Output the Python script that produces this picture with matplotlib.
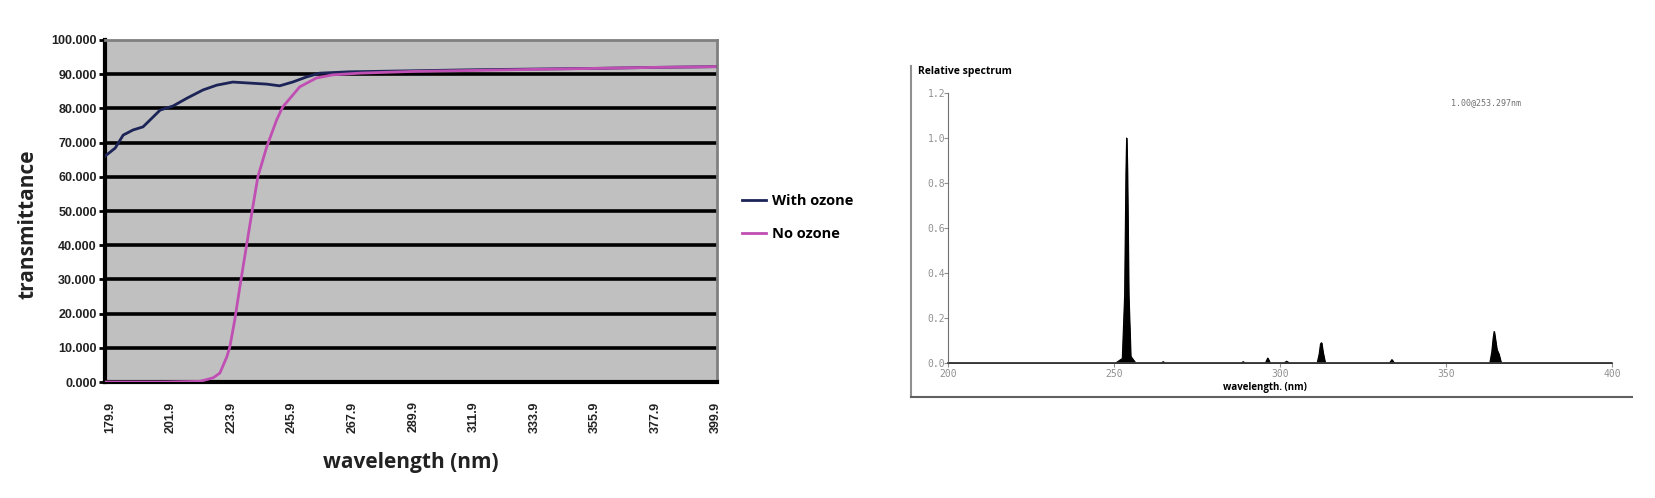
import numpy as np
import matplotlib
matplotlib.use('Agg')
import matplotlib.pyplot as plt
from matplotlib.lines import Line2D

# ---- left chart: transmittance ----
wl_ozone = [178.1, 181.7, 184.6, 188.2, 191.8, 195.1, 198.0, 202.7, 207.8, 213.6,
            218.6, 224.4, 230.6, 236.7, 241.4, 246.1, 251.2, 255.9, 266.7, 289.7,
            312.0, 333.7, 356.1, 378.2, 399.5]
tr_ozone = [66.1, 68.4, 72.2, 73.7, 74.6, 77.2, 79.5, 80.7, 83.0, 85.4,
            86.8, 87.7, 87.4, 87.1, 86.6, 87.7, 89.2, 90.3, 90.7, 91.0,
            91.3, 91.5, 91.7, 92.0, 92.2]

wl_no = [178.1, 200.0, 212.5, 217.2, 219.7, 222.2, 223.3, 225.1, 227.0, 228.8,
         231.3, 233.5, 236.7, 240.3, 242.5, 248.7, 254.8, 260.6, 270.4, 289.7,
         312.0, 333.7, 356.1, 378.2, 399.5]
tr_no = [0.0, 0.0, 0.2, 1.2, 2.6, 7.3, 10.2, 18.1, 28.0, 37.0,
         49.4, 60.0, 68.7, 76.6, 80.4, 86.3, 88.9, 89.8, 90.3, 90.8,
         91.1, 91.4, 91.7, 92.0, 92.2]

x_ticks = [179.9, 201.9, 223.9, 245.9, 267.9, 289.9, 311.9, 333.9, 355.9, 377.9, 399.9]
y_ticks = [0, 10, 20, 30, 40, 50, 60, 70, 80, 90, 100]

# ---- right chart: lamp spectrum (explicit outline points) ----
spec_wl = [200.0, 250.5, 252.5, 253.2, 253.6, 253.8, 254.0, 254.4, 255.0, 256.5,
           264.3, 264.8, 265.3, 288.4, 288.9, 289.4, 295.6, 296.3, 297.0,
           301.2, 302.0, 302.8, 311.2, 311.8, 312.2, 312.5, 312.9, 313.6,
           333.0, 333.7, 334.4, 363.2, 363.8, 364.2, 364.5, 364.9, 365.3, 365.9, 366.6, 400.0]
spec_int = [0.0, 0.0, 0.02, 0.3, 0.85, 1.0, 0.85, 0.3, 0.03, 0.0,
            0.0, 0.006, 0.0, 0.0, 0.006, 0.0, 0.0, 0.022, 0.0,
            0.0, 0.008, 0.0, 0.0, 0.04, 0.085, 0.09, 0.05, 0.0,
            0.0, 0.015, 0.0, 0.0, 0.05, 0.11, 0.14, 0.1, 0.06, 0.04, 0.0, 0.0]

W, H = 1656, 498
fig = plt.figure(figsize=(W / 100, H / 100), dpi=100)

NAVY = '#1c2457'
PINK = '#c04fb4'
TXT = '#222222'

ax = fig.add_axes([105 / W, 1 - 382 / H, (717 - 105) / W, (382 - 40) / H])
ax.set_facecolor('#c0c0c0')
ax.set_xlim(178.0, 400.2)
ax.set_ylim(0, 100)
for v in y_ticks[1:-1]:
    ax.axhline(v, color='black', lw=2.6, zorder=1)
ax.axhline(0, color='black', lw=3.5, zorder=1)
ax.plot(wl_ozone, tr_ozone, color=NAVY, lw=2, zorder=3, label='With ozone')
ax.plot(wl_no, tr_no, color=PINK, lw=2, zorder=3, label='No ozone')
ax.set_xticks(x_ticks)
ax.set_xticklabels([f'{t:.1f}' for t in x_ticks], rotation=90, fontsize=9,
                   fontweight='bold', family='Liberation Sans', color=TXT)
ax.set_yticks(y_ticks)
ax.set_yticklabels([f'{t:.3f}' for t in y_ticks], fontsize=9, fontweight='bold',
                   family='Liberation Sans', color=TXT)
ax.tick_params(axis='x', length=0, pad=14)
ax.tick_params(axis='y', length=4, width=2, pad=2)
ax.spines['left'].set_linewidth(3)
ax.spines['bottom'].set_linewidth(3)
ax.spines['top'].set_color('#808080')
ax.spines['right'].set_color('#808080')
ax.spines['top'].set_linewidth(2)
ax.spines['right'].set_linewidth(2)
ax.set_ylabel('transmittance', fontsize=15, fontweight='bold', family='Open Sans',
              color=TXT)
ax.yaxis.set_label_coords(-0.108, 0.46)
ax.set_xlabel('wavelength (nm)', fontsize=15, fontweight='bold', family='Open Sans',
              color=TXT, labelpad=14)
ax.legend(loc='center left', bbox_to_anchor=(1.02, 0.48), frameon=False,
          handlelength=1.6, handletextpad=0.4, labelspacing=1.3,
          prop={'weight': 'bold', 'size': 10.5, 'family': 'Open Sans'})

# outer frame of the spectrum picture (left and bottom only)
fig.add_artist(Line2D([911 / W, 911 / W], [1 - 66 / H, 1 - 397 / H], color='#909090', lw=1.5))
fig.add_artist(Line2D([911 / W, 1632 / W], [1 - 397 / H, 1 - 397 / H], color='#606060', lw=1.5))

bx = fig.add_axes([948 / W, 1 - 363 / H, (1612 - 948) / W, (363 - 93) / H])
bx.fill_between(spec_wl, spec_int, color='black', lw=0.8)
bx.plot(spec_wl, spec_int, color='black', lw=0.8)
bx.set_xlim(200, 400)
bx.set_ylim(0, 1.2)
bx.set_xticks([200, 250, 300, 350, 400])
bx.set_yticks([0.0, 0.2, 0.4, 0.6, 0.8, 1.0, 1.2])
bx.set_yticklabels(['0.0', '0.2', '0.4', '0.6', '0.8', '1.0', '1.2'])
for s in ['top', 'right']:
    bx.spines[s].set_visible(False)
bx.spines['left'].set_color('#707070')
bx.spines['bottom'].set_color('#404040')
bx.spines['bottom'].set_linewidth(1.2)
bx.tick_params(labelsize=7, colors='#909090', length=3, pad=1, labelfontfamily='DejaVu Sans Mono')
bx.tick_params(axis='y', pad=-1)
bx.text(-0.045, 1.06, 'Relative spectrum', transform=bx.transAxes, fontsize=7.5,
        fontweight='bold', family='Open Sans', ha='left', va='bottom')
bx.text(0.81, 0.965, '1.00@253.297nm', transform=bx.transAxes, fontsize=6,
        family='DejaVu Sans Mono', color='#707070', ha='center', va='center')
bx.set_xlabel('wavelength. (nm)', fontsize=7, fontweight='bold', family='Open Sans',
              labelpad=0)
bx.xaxis.set_label_coords(0.477, -0.07)

fig.savefig('out.png', dpi=100)
